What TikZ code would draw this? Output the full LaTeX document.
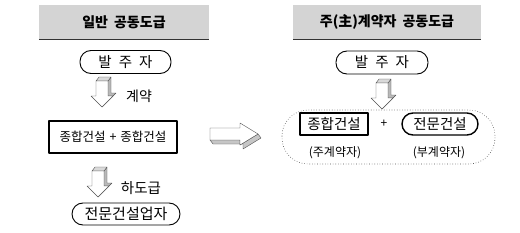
\documentclass[tikz,border=0pt]{standalone}
\usepackage{fontspec}
\setmainfont{Noto Sans CJK KR}
\usetikzlibrary{positioning}

\definecolor{barGray}{RGB}{212,212,212}
\definecolor{edgeGray}{RGB}{80,80,80}

\tikzset{
    titlebar/.style={fill=barGray, inner sep=0pt, minimum height=34pt,
        font=\fontsize{14}{16}\selectfont\bfseries},
    pill/.style={draw, rounded corners=11pt, inner sep=0pt, minimum height=23pt},
    plainbox/.style={draw, inner sep=0pt},
    pics/downarrow/.style={code={
        \draw[edgeGray, fill=gray!55] (6,4) -- (9,0) -- (9,16) -- (14,16) -- (3,27) -- (0,30) -- (11,19) -- (6,19) -- cycle;
        \draw[edgeGray, fill=gray!30] (-6,4) -- (-3,0) -- (9,0) -- (6,4) -- cycle;
        \draw[edgeGray, fill=white] (-6,4) -- (-6,19) -- (-11,19) -- (0,30) -- (11,19) -- (6,19) -- (6,4) -- cycle;
    }},
    pics/rightarrow/.style={code={
        \draw[edgeGray, fill=gray!45] (0,6) -- (30,6) -- (30,11) -- (48,0) -- (51,4) -- (33,15) -- (33,10) -- (3,10) -- cycle;
        \draw[edgeGray, fill=white] (0,-6) -- (30,-6) -- (30,-11) -- (48,0) -- (30,11) -- (30,6) -- (0,6) -- cycle;
    }}
}

\begin{document}
\begin{tikzpicture}[x=1pt, y=-1pt, line join=round]
\useasboundingbox (0,0) rectangle (520,233);

% Titles
\node[titlebar, minimum width=170pt] (titleL) at (124,22) {일반\hspace{6pt}공동도급};
\node[titlebar, minimum width=188pt] (titleR) at (387,22) {주(主)계약자\hspace{6pt}공동도급};
\draw[line width=1.4pt, black!80] (titleL.south west) -- (titleL.south east);
\draw[line width=1.4pt, black!80] (titleR.south west) -- (titleR.south east);

% Left: general joint contract
\node[pill, line width=0.9pt, minimum width=91pt, font=\fontsize{14.5}{16}\selectfont] (ownerL) at (125.5,62)
    {발\hspace{7pt}주\hspace{7pt}자};
\pic at (102,77) {downarrow};
\node[font=\fontsize{14}{16}\selectfont] (contractL) at (139,96) {계약};

\node[plainbox, line width=1.1pt, minimum width=128pt, minimum height=32pt,
    font=\fontsize{12.5}{14}\selectfont] (jointL) at (113,137)
    {종합건설\hspace{4pt}+\hspace{4pt}종합건설};

\pic at (98,167) {downarrow};
\node[font=\fontsize{14.5}{16}\selectfont] (subL) at (141,188) {하도급};
\node[pill, line width=0.9pt, minimum width=108pt, minimum height=22pt,
    font=\fontsize{15}{17}\selectfont] (specL) at (126,214) {전문건설업자};

% Middle arrow
\pic at (210,134) {rightarrow};

% Right: main contractor joint contract
\node[pill, line width=0.9pt, minimum width=92pt, font=\fontsize{14.5}{16}\selectfont] (ownerR) at (382,62.5)
    {발\hspace{7pt}주\hspace{7pt}자};
\pic at (382,79) {downarrow};

\draw[dotted, edgeGray, semithick, rounded corners=26pt] (282,110) rectangle (495,164);
\node[plainbox, line width=1.4pt, minimum width=68pt, minimum height=22pt,
    font=\fontsize{14.5}{16}\selectfont] (mainR) at (334,124) {종합건설};
\node[font=\fontsize{12}{14}\selectfont] (plusR) at (384,124) {+};
\node[pill, line width=1.4pt, minimum width=76pt, minimum height=22pt,
    font=\fontsize{14.5}{16}\selectfont] (specR) at (440,124) {전문건설};
\node[font=\fontsize{12}{14}\selectfont] (mainLbl) at (335,153) {(주계약자)};
\node[font=\fontsize{12}{14}\selectfont] (subLbl) at (439,153) {(부계약자)};

\end{tikzpicture}
\end{document}
